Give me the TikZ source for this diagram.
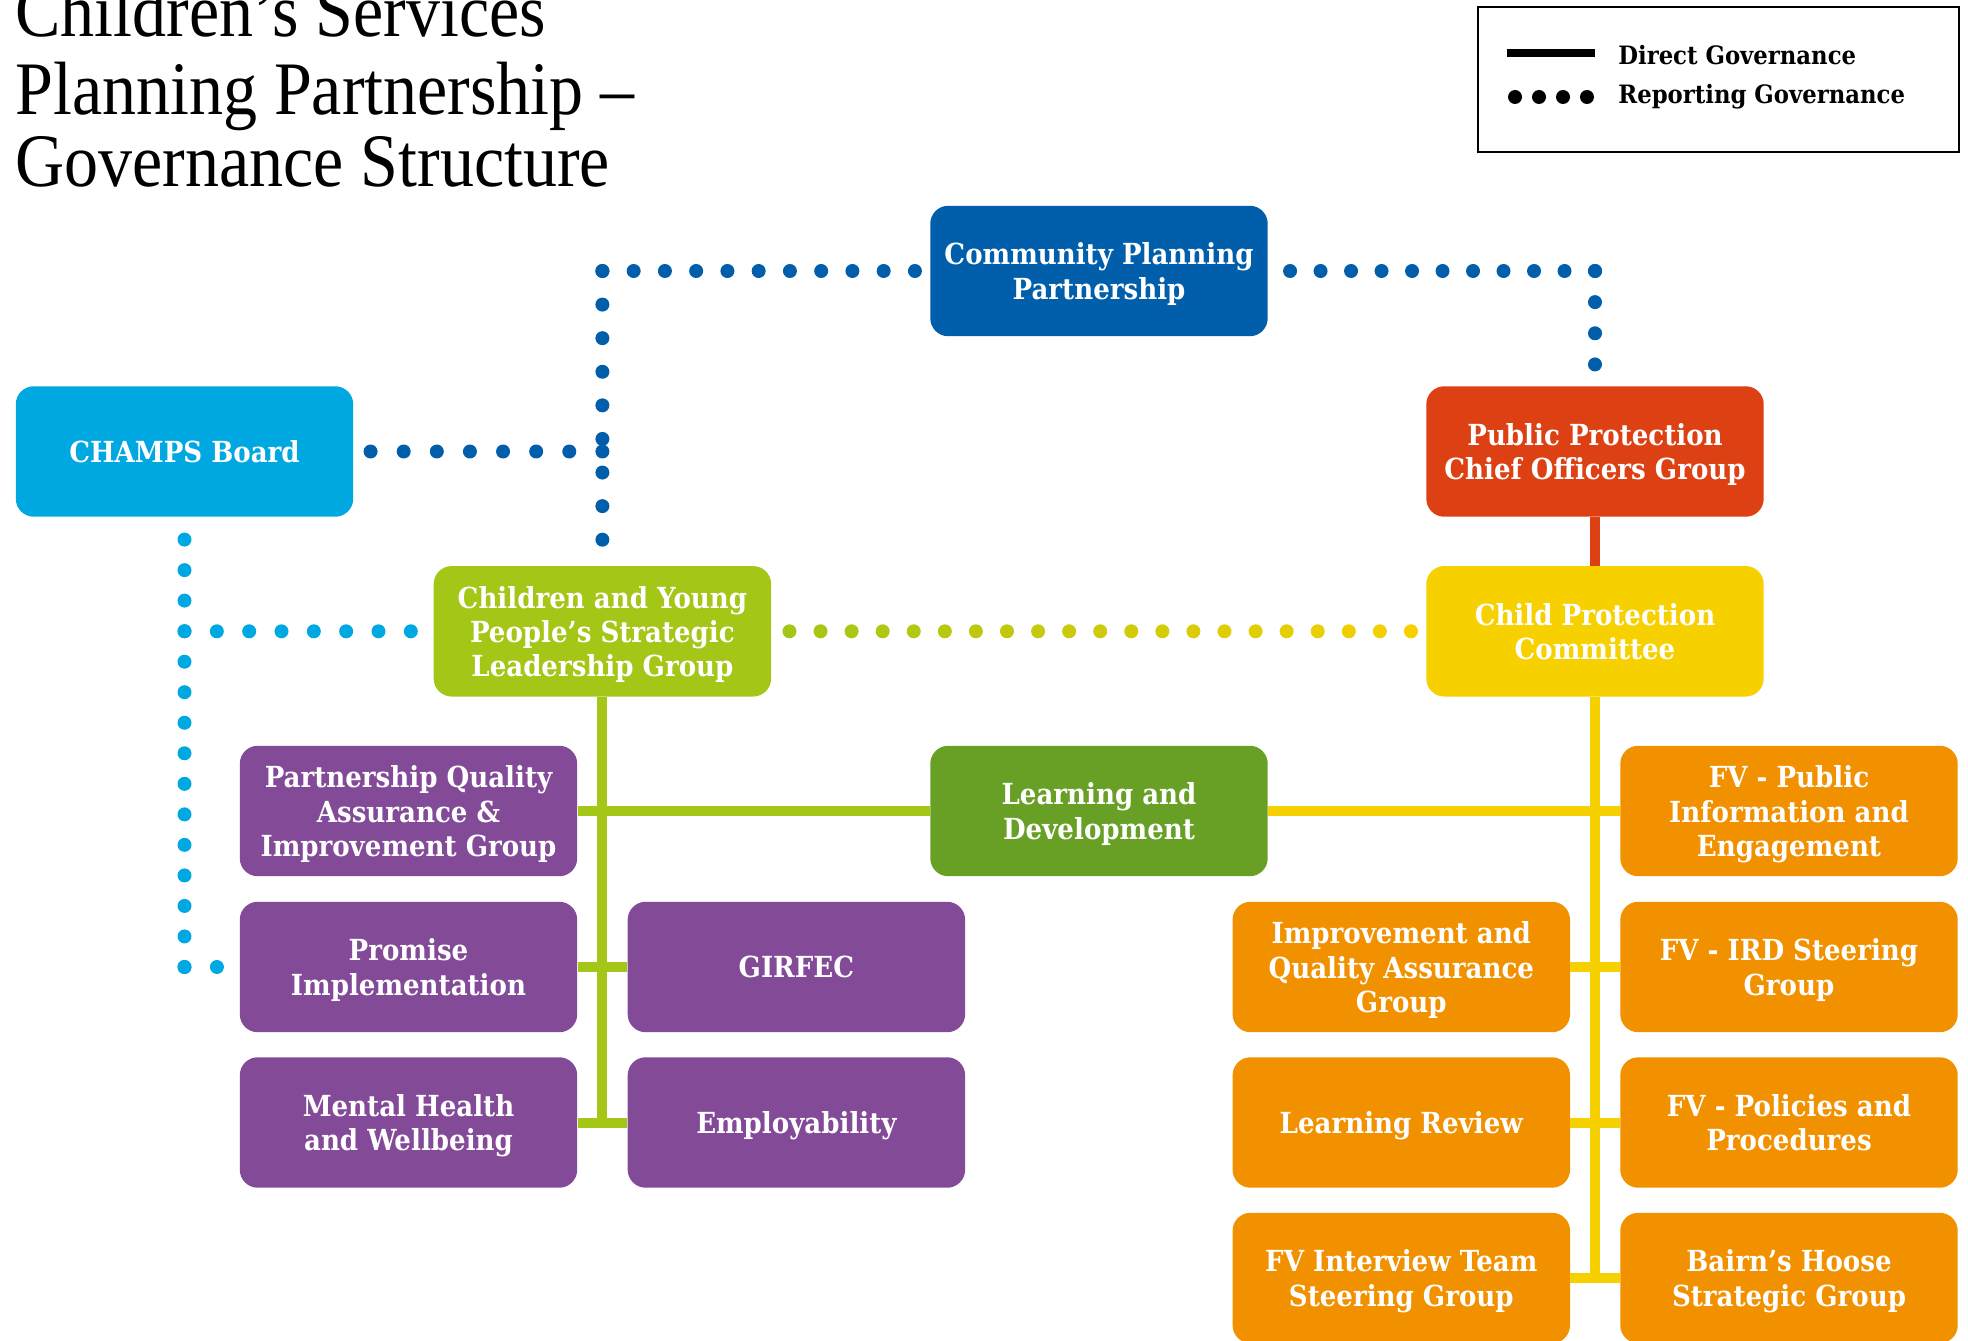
\documentclass[tikz,border=0pt]{standalone}
\usepackage{fontspec}
\usepackage{tikz}
\usetikzlibrary{calc,decorations}

\newfontfamily\titlefont[FakeStretch=0.9]{Liberation Serif}
\newfontfamily\boxfont[FakeStretch=0.9]{DejaVu Serif}

\definecolor{cppblue}{HTML}{005EAA}
\definecolor{champsblue}{HTML}{00A8E1}
\definecolor{ppred}{HTML}{DD4013}
\definecolor{leafgreen}{HTML}{A3C617}
\definecolor{cpyellow}{HTML}{F7D000}
\definecolor{ldgreen}{HTML}{68A025}
\definecolor{grouppurple}{HTML}{834A98}
\definecolor{grouporange}{HTML}{F29100}

\tikzset{
  unitbox/.style={fill=#1, rounded corners=0.36cm, minimum width=6.75cm, minimum height=2.61cm,
    inner sep=0pt, align=center, text depth=0pt, text=white, font=\boxfont\bfseries\fontsize{16.5}{19.5}\selectfont},
  direct/.style={draw=#1, line width=0.2cm},
  reporting/.style={draw=#1, line width=0.28cm, line cap=round, dash pattern=on 0pt off 0.6cm, dash expand off}
}

\begin{document}
\begin{tikzpicture}[x=0.02cm,y=-0.02cm]
\useasboundingbox (0,0) rectangle (1968,1341);

\node[anchor=base west, align=left, inner sep=0pt, font=\titlefont\fontsize{43}{41.5}\selectfont] (title) at (15,187) {Children’s Services\\[0.1cm]Planning Partnership –\\Governance Structure};

\node[draw, line width=0.04cm, minimum width=9.62cm, minimum height=2.9cm] (legend) at (1718.5,79.5) {};
\draw[line width=0.15cm] (1507,53) -- (1595,53);
\draw[reporting=black, dash pattern=on 0pt off 0.48cm] (1515,97) -- (1587,97);
\node[anchor=base west, inner sep=0pt, font=\boxfont\bfseries\fontsize{14.4}{16}\selectfont] (directlbl) at (1618,65) {Direct Governance};
\node[anchor=base west, inner sep=0pt, font=\boxfont\bfseries\fontsize{14.4}{16}\selectfont] (reportlbl) at (1618,104) {Reporting Governance};

\node[unitbox=cppblue] (cpp) at (1099,271) {Community Planning\\Partnership};
\node[unitbox=champsblue] (champs) at (184.5,451.5) {CHAMPS Board};
\node[unitbox=ppred] (ppcog) at (1595,451.5) {Public Protection\\Chief Officers Group};
\node[unitbox=leafgreen] (cyp) at (602.4,631.3) {Children and Young\\People’s Strategic\\Leadership Group};
\node[unitbox=cpyellow] (cpc) at (1595,631.3) {Child Protection\\Committee};
\node[unitbox=grouppurple] (pqa) at (408.5,811) {Partnership Quality\\Assurance \&\\Improvement Group};
\node[unitbox=ldgreen] (ld) at (1099,811) {Learning and\\Development};
\node[unitbox=grouporange] (fvpub) at (1789,811) {FV - Public\\Information and\\Engagement};
\node[unitbox=grouppurple] (promise) at (408.5,967) {Promise\\Implementation};
\node[unitbox=grouppurple] (girfec) at (796.4,967) {GIRFEC};
\node[unitbox=grouporange] (iqa) at (1401.3,967) {Improvement and\\Quality Assurance\\Group};
\node[unitbox=grouporange] (fvird) at (1789,967) {FV - IRD Steering\\Group};
\node[unitbox=grouppurple] (mh) at (408.5,1122.5) {Mental Health\\and Wellbeing};
\node[unitbox=grouppurple] (emp) at (796.4,1122.5) {Employability};
\node[unitbox=grouporange] (lr) at (1401.3,1122.5) {Learning Review};
\node[unitbox=grouporange] (fvpol) at (1789,1122.5) {FV - Policies and\\Procedures};
\node[unitbox=grouporange] (fvint) at (1401.3,1278) {FV Interview Team\\Steering Group};
\node[unitbox=grouporange] (bairn) at (1789,1278) {Bairn’s Hoose\\Strategic Group};

\coordinate (cppL) at (cyp.north |- cpp.west);
\coordinate (cppR) at (ppcog.north |- cpp.east);
\coordinate (champsD) at (champs.south |- promise.west);
\coordinate (champsM) at (champs.south |- cyp.west);
\coordinate (champsR) at (cyp.north |- champs.east);

\draw[reporting=cppblue] (cppL) -- ([xshift=-0.3cm]cpp.west);
\draw[reporting=cppblue] (cppL) -- ([yshift=0.52cm]cyp.north);
\draw[reporting=cppblue] (cppR) -- ([xshift=0.44cm]cpp.east);
\draw[reporting=cppblue] (cppR) -- ([yshift=0.43cm]ppcog.north);
\draw[reporting=cppblue] (champsR) -- ([xshift=0.34cm]champs.east);
\draw[reporting=champsblue] (champsD) -- ([yshift=-0.45cm]champs.south);
\draw[reporting=champsblue] (champsD) -- ([xshift=-0.45cm]promise.west);
\draw[reporting=champsblue] (champsM) -- ([xshift=-0.45cm]cyp.west);
\foreach \i in {0,...,20} {
  \pgfmathsetmacro\mix{100-5*\i}
  \fill[leafgreen!\mix!cpyellow] ($([xshift=0.36cm]cyp.east)!\i/20!([xshift=-0.3cm]cpc.west)$) circle (0.14cm);
}

\draw[direct=ppred] (ppcog.south) -- (cpc.north);
\draw[direct=leafgreen] (cyp.south) -- (cyp.south |- mh.east);
\draw[direct=leafgreen] (pqa.east) -- (ld.west);
\draw[direct=leafgreen] (promise.east) -- (girfec.west);
\draw[direct=leafgreen] (mh.east) -- (emp.west);
\draw[direct=cpyellow] (cpc.south) -- (cpc.south |- fvint.east);
\draw[direct=cpyellow] (ld.east) -- (fvpub.west);
\draw[direct=cpyellow] (iqa.east) -- (fvird.west);
\draw[direct=cpyellow] (lr.east) -- (fvpol.west);
\draw[direct=cpyellow] (fvint.east) -- (bairn.west);
\end{tikzpicture}
\end{document}
